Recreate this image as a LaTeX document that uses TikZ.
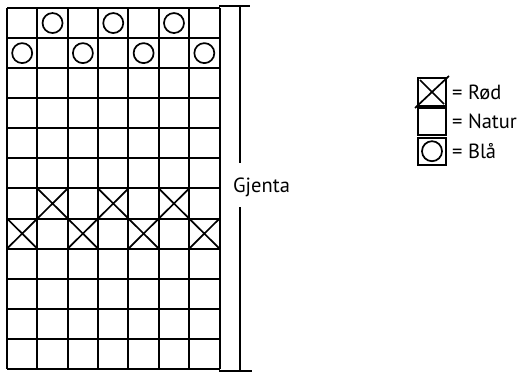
\documentclass[tikz,border=0pt]{standalone}
\usepackage{fontspec}
\setmainfont{PT Sans}
\begin{document}
\begin{tikzpicture}[x=1pt,y=-1pt,
  gridline/.style={line width=2pt,black},
  markline/.style={line width=1.7pt,black},
  lbl/.style={inner sep=0pt,font=\fontsize{20.5}{22}\selectfont}]
\useasboundingbox (0,0) rectangle (528,372);
\fill[white] (0,0) rectangle (528,372);
\def\cw{30.36}\def\ch{30.08}
% grid
\foreach \i in {0,...,7}
  \draw[gridline] (7+\i*\cw,8) -- (7+\i*\cw,8+12*\ch);
\foreach \j in {0,...,12}
  \draw[gridline] (7,8+\j*\ch) -- (7+7*\cw,8+\j*\ch);
% circles
\foreach \c in {1,3,5}
  \draw[markline] (7+\c*\cw+0.5*\cw,8+0.5*\ch) circle[radius=10pt];
\foreach \c in {0,2,4,6}
  \draw[markline] (7+\c*\cw+0.5*\cw,8+1.5*\ch) circle[radius=10pt];
% crosses
\foreach \c in {1,3,5}
  \draw[markline] (7+\c*\cw,8+6*\ch) -- (7+\c*\cw+\cw,8+7*\ch)
                  (7+\c*\cw+\cw,8+6*\ch) -- (7+\c*\cw,8+7*\ch);
\foreach \c in {0,2,4,6}
  \draw[markline] (7+\c*\cw,8+7*\ch) -- (7+\c*\cw+\cw,8+8*\ch)
                  (7+\c*\cw+\cw,8+7*\ch) -- (7+\c*\cw,8+8*\ch);
% bracket
\coordinate (bt1) at (219,6);
\coordinate (bt2) at (250,6);
\coordinate (bb1) at (219,370.5);
\coordinate (bb2) at (252,370.5);
\coordinate (vt) at (240,6);
\coordinate (vm1) at (240,163);
\coordinate (vm2) at (240,207);
\coordinate (vb) at (240,370.5);
\draw[gridline] (bt1) -- (bt2);
\draw[gridline] (bb1) -- (bb2);
\draw[gridline] (vt) -- (vm1);
\draw[gridline] (vm2) -- (vb);
\node[lbl,anchor=base west] (gjenta) at (233,192) {Gjenta};
% legend
\draw[gridline] (418,78) rectangle (446,106);
\draw[markline] (415,108) -- (449,76);
\draw[markline] (420,80) -- (444,104);
\draw[gridline] (418,108) rectangle (446,135);
\draw[gridline] (418,137.5) rectangle (446,165);
\draw[markline] (432,151.2) circle[radius=10pt];
\node[lbl,anchor=base west] (rod) at (452,99) {= Rød};
\node[lbl,anchor=base west] (natur) at (452,128.5) {= Natur};
\node[lbl,anchor=base west] (bla) at (452,158) {= Blå};
\end{tikzpicture}
\end{document}
